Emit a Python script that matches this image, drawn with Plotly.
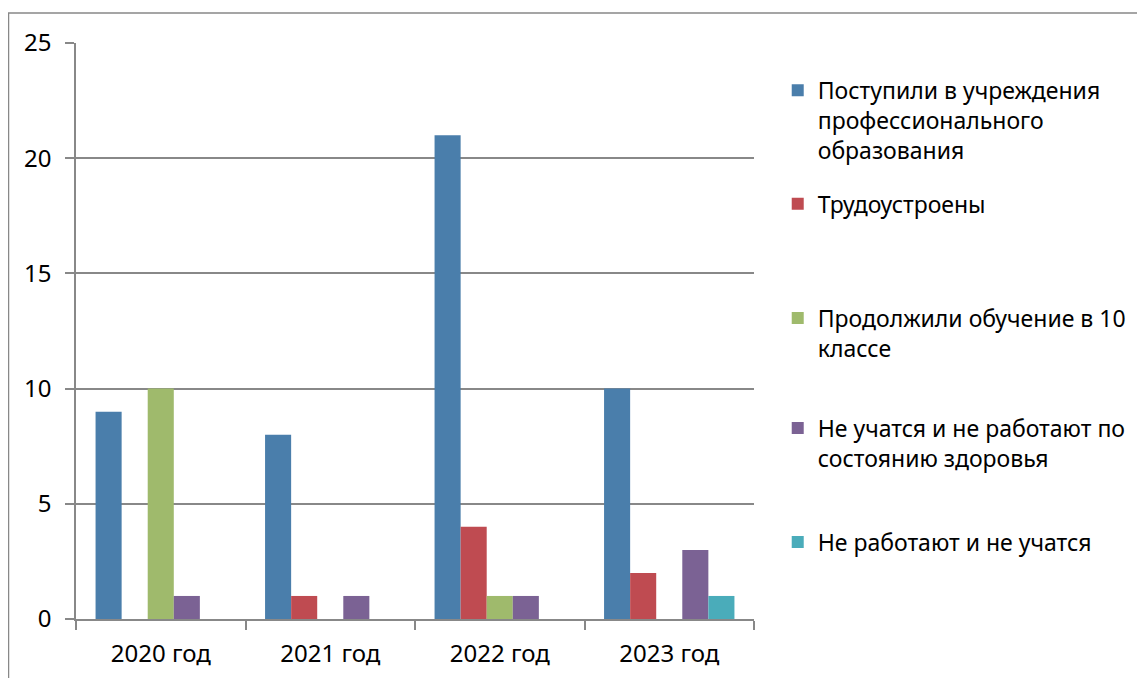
import plotly.graph_objects as go

categories = ["2020 год", "2021 год", "2022 год", "2023 год"]
series_names = [
    "Поступили в учреждения<br>профессионального<br>образования",
    "Трудоустроены",
    "Продолжили обучение в 10<br>классе",
    "Не учатся и не работают по<br>состоянию здоровья",
    "Не работают и не учатся",
]
postupili = [9, 8, 21, 10]
trudoustroeny = [0, 1, 4, 2]
prodolzhili = [10, 0, 1, 0]
ne_uchatsya_zdorovye = [1, 1, 1, 3]
ne_rabotayut = [0, 0, 0, 1]
y_ticks = [0, 5, 10, 15, 20, 25]

values = [postupili, trudoustroeny, prodolzhili, ne_uchatsya_zdorovye, ne_rabotayut]
colors = ["#4A7EAB", "#BF4B51", "#9FBA6C", "#7B6294", "#4AACBA"]
legend_ids = ["legend", "legend2", "legend3", "legend4", "legend5"]
legend_y = [0.955, 0.758, 0.560, 0.369, 0.171]

FONT = "Noto Sans"
GRID = "#888888"

fig = go.Figure()
for name, vals, col, lid in zip(series_names, values, colors, legend_ids):
    fig.add_trace(go.Bar(x=categories, y=vals, name=name, marker_color=col,
                         marker_line_width=0, legend=lid))

layout_legends = {}
for lid, ly in zip(legend_ids, legend_y):
    layout_legends[lid] = dict(
        x=1.035, y=ly, xanchor="left", yanchor="top",
        font=dict(family=FONT, size=23, color="#000000"),
        bgcolor="rgba(0,0,0,0)", valign="top", itemwidth=30,
    )

# page body adds an 8px offset; margins compensate so the plot area lands
# at screen x 76..754, y 43..619
fig.update_layout(
    width=1145, height=678,
    margin=dict(l=68, r=399, t=35, b=67),
    paper_bgcolor="white", plot_bgcolor="white",
    barmode="group", bargap=0.2308, bargroupgap=0,
    showlegend=True,
    font=dict(family=FONT, color="#000000"),
    xaxis=dict(
        type="category", tickson="boundaries", ticks="outside", ticklen=9,
        tickcolor=GRID, tickwidth=1.5,
        showline=True, linecolor=GRID, linewidth=1.5,
        showgrid=False, tickfont=dict(family=FONT, size=24, color="#000000"),
        ticklabelstandoff=12, fixedrange=True,
    ),
    yaxis=dict(
        range=[0, 25], tickvals=y_ticks, ticks="outside", ticklen=9,
        tickcolor=GRID, tickwidth=1.5,
        showline=True, linecolor=GRID, linewidth=1.5,
        showgrid=True, gridcolor=GRID, gridwidth=1.5,
        zeroline=False, tickfont=dict(family=FONT, size=24, color="#000000"),
        ticklabelstandoff=9, fixedrange=True,
    ),
    **layout_legends,
)

fig.add_shape(type="rect", xref="paper", yref="paper",
              x0=(0.5 - 68) / 678, x1=(1160 - 68) / 678,
              y0=(611 - 700) / 576, y1=(611 - 5) / 576,
              line=dict(color=GRID, width=1.5), fillcolor="rgba(0,0,0,0)",
              layer="below")

fig.write_html("out.html")
